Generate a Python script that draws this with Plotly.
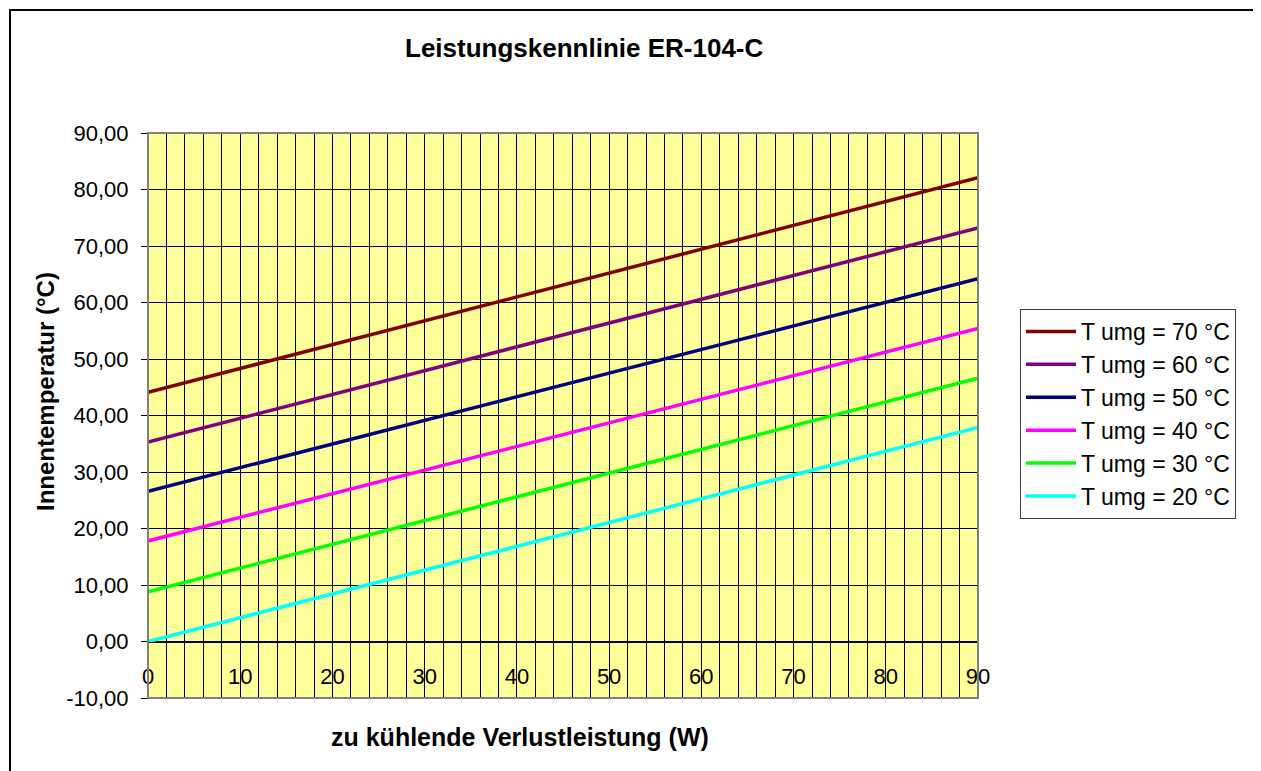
import plotly.graph_objects as go

# ---- data ----
leistung_w = [0, 90]
t_umg_70 = [44.1, 82.1]
t_umg_60 = [35.3, 73.2]
t_umg_50 = [26.6, 64.2]
t_umg_40 = [17.8, 55.4]
t_umg_30 = [8.8, 46.6]
t_umg_20 = [0.0, 37.9]

series_names = ["T umg = 70 °C", "T umg = 60 °C", "T umg = 50 °C",
                "T umg = 40 °C", "T umg = 30 °C", "T umg = 20 °C"]
series_colors = ["#800000", "#800080", "#000080", "#FF00FF", "#00FF00", "#00FFFF"]
series_values = [t_umg_70, t_umg_60, t_umg_50, t_umg_40, t_umg_30, t_umg_20]

y_tickvals = [-10, 0, 10, 20, 30, 40, 50, 60, 70, 80, 90]
y_ticktext = ["-10,00", "0,00", "10,00", "20,00", "30,00", "40,00",
              "50,00", "60,00", "70,00", "80,00", "90,00"]
x_tickvals = [0, 10, 20, 30, 40, 50, 60, 70, 80, 90]
x_ticktext = ["0", "10", "20", "30", "40", "50", "60", "70", "80", "90"]

FONT = "Arial, Liberation Sans, sans-serif"

OFF = 8  # page body margin
W, H = 1261, 771
L, R, T, B = 148, 978, 133, 698

fig = go.Figure()
for name, color, vals in zip(series_names, series_colors, series_values):
    fig.add_trace(go.Scatter(x=leistung_w, y=vals, mode="lines", name=name,
                             line=dict(color=color, width=3.5)))

def px_x(p):
    return (p - L) / (R - L)

def px_y(p):
    return (B - p) / (B - T)

fig.update_layout(
    width=W - OFF, height=H - OFF, autosize=False,
    margin=dict(l=L - OFF, r=W - R, t=T - OFF, b=H - B, pad=0),
    paper_bgcolor="white",
    plot_bgcolor="#FFFF99",
    font=dict(family=FONT, size=22, color="black"),
    showlegend=True,
    legend=dict(x=px_x(1020), y=px_y(309), xanchor="left", yanchor="top",
                bordercolor="#404040", borderwidth=1, bgcolor="white",
                font=dict(size=23), tracegroupgap=0, itemwidth=50),
    xaxis=dict(range=[0, 90], anchor="free", position=0.1,
               tickvals=x_tickvals, ticktext=x_ticktext,
               ticks="outside", ticklen=6, tickcolor="black",
               showline=True, linecolor="black", linewidth=1,
               showgrid=True, gridcolor="black", gridwidth=1,
               minor=dict(dtick=2, showgrid=True, gridcolor="black", gridwidth=1, ticks=""),
               zeroline=False, ticklabelstandoff=9,
               tickfont=dict(size=22)),
    yaxis=dict(range=[-10, 90], tickvals=y_tickvals, ticktext=y_ticktext,
               ticks="outside", ticklen=6, tickcolor="black",
               showline=False, showgrid=True, gridcolor="black", gridwidth=1,
               zeroline=False, ticklabelstandoff=8,
               tickfont=dict(size=22)),
    shapes=[
        dict(type="rect", xref="paper", yref="paper", x0=0, x1=1, y0=0, y1=1,
             line=dict(color="#808080", width=2), layer="above"),
        dict(type="rect", xref="paper", yref="paper",
             x0=px_x(10), x1=px_x(W + 20), y0=px_y(H + 20), y1=px_y(10),
             line=dict(color="black", width=2), layer="below"),
    ],
    annotations=[
        dict(text="<b>Leistungskennlinie ER-104-C</b>", xref="paper", yref="paper",
             x=px_x(584), y=px_y(48), xanchor="center", yanchor="middle",
             showarrow=False, font=dict(size=26)),
        dict(text="<b>zu kühlende Verlustleistung (W)</b>", xref="paper", yref="paper",
             x=px_x(520), y=px_y(737), xanchor="center", yanchor="middle",
             showarrow=False, font=dict(size=25)),
        dict(text="<b>Innentemperatur (°C)</b>", xref="paper", yref="paper",
             x=px_x(45), y=px_y(392), xanchor="center", yanchor="middle",
             textangle=-90, showarrow=False, font=dict(size=24)),
    ],
)

fig.write_html("out.html")
